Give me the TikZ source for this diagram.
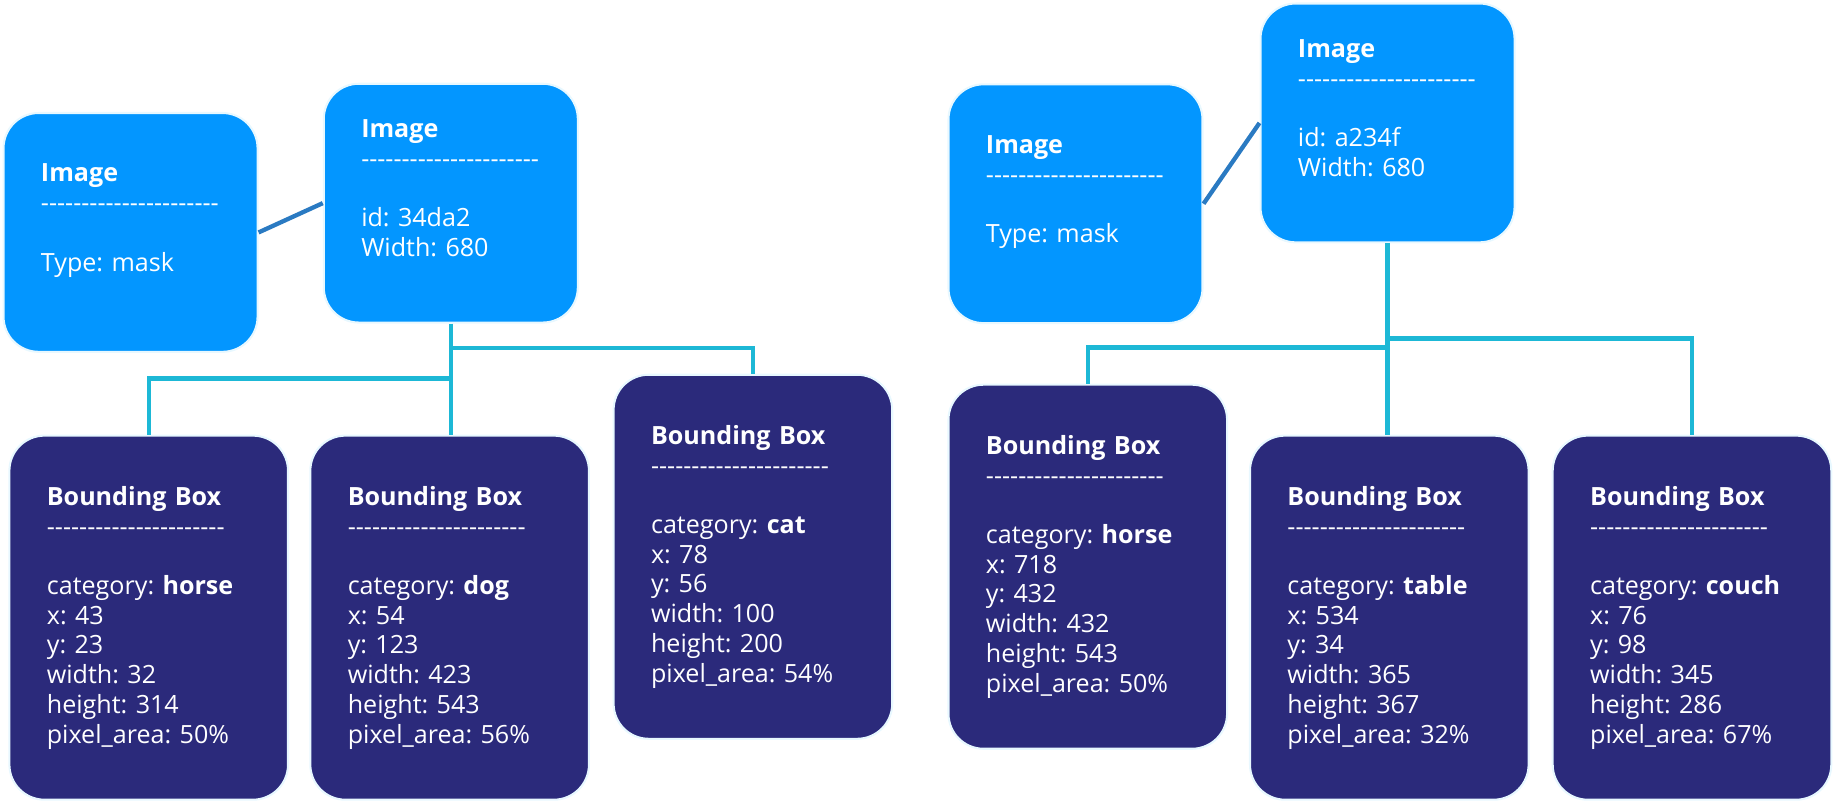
\documentclass[tikz,border=0pt]{standalone}
\usepackage{fontspec}
\setmainfont{Open Sans}
\frenchspacing
\definecolor{imgblue}{HTML}{0396FF}
\definecolor{bbnavy}{HTML}{2B2A7B}
\definecolor{treecyan}{HTML}{1DB8D6}
\definecolor{linkblue}{HTML}{2A7AC2}
\definecolor{rimwhite}{HTML}{E8F8FF}
\newcommand{\dashrow}{\mbox{-{}-{}-{}-{}-{}-{}-{}-{}-{}-{}-{}-{}-{}-{}-{}-{}-{}-{}-{}-{}-{}-}}
\begin{document}
\begin{tikzpicture}[x=0.02cm,y=-0.02cm,
  box/.style={rounded corners=0.6cm, draw=rimwhite, line width=1pt, text=white,
    align=left, inner xsep=0.64cm, font=\fontsize{12.2}{14.45}\selectfont},
  imgbox/.style={box, fill=imgblue, text width=3.06cm, minimum height=4.08cm},
  bbox/.style={box, fill=bbnavy, text width=3.48cm, minimum height=6.22cm},
  tree/.style={treecyan, line width=2.1pt},
  link/.style={linkblue, line width=2.1pt}]
  \useasboundingbox (0,0) rectangle (1568,685);

  % left group
  \node[imgbox] (imgA) at (111.5,198.5) {\textbf{Image}\\ \dashrow\\[14.4pt] Type: mask\\ \mbox{}};
  \node[imgbox] (imgB) at (385,173.5) {\textbf{Image}\\ \dashrow\\[14.4pt] id: 34da2\\ Width: 680\\ \mbox{}};
  \node[bbox] (bb1) at (127,527.5) {\textbf{Bounding Box}\\ \dashrow\\[14.4pt]
    category: \textbf{horse}\\ x: 43\\ y: 23\\ width: 32\\ height: 314\\ pixel\_area: 50\%};
  \node[bbox] (bb2) at (384,527.5) {\textbf{Bounding Box}\\ \dashrow\\[14.4pt]
    category: \textbf{dog}\\ x: 54\\ y: 123\\ width: 423\\ height: 543\\ pixel\_area: 56\%};
  \node[bbox] (bb3) at (643,475.5) {\textbf{Bounding Box}\\ \dashrow\\[14.4pt]
    category: \textbf{cat}\\ x: 78\\ y: 56\\ width: 100\\ height: 200\\ pixel\_area: 54\%};

  % right group
  \node[imgbox] (imgC) at (918.5,174) {\textbf{Image}\\ \dashrow\\[14.4pt] Type: mask\\ \mbox{}};
  \node[imgbox] (imgD) at (1185,105) {\textbf{Image}\\ \dashrow\\[14.4pt] id: a234f\\ Width: 680\\ \mbox{}};
  \node[bbox] (bb4) at (929,484) {\textbf{Bounding Box}\\ \dashrow\\[14.4pt]
    category: \textbf{horse}\\ x: 718\\ y: 432\\ width: 432\\ height: 543\\ pixel\_area: 50\%};
  \node[bbox] (bb5) at (1186.5,527.5) {\textbf{Bounding Box}\\ \dashrow\\[14.4pt]
    category: \textbf{table}\\ x: 534\\ y: 34\\ width: 365\\ height: 367\\ pixel\_area: 32\%};
  \node[bbox] (bb6) at (1445,527.5) {\textbf{Bounding Box}\\ \dashrow\\[14.4pt]
    category: \textbf{couch}\\ x: 76\\ y: 98\\ width: 345\\ height: 286\\ pixel\_area: 67\%};

  \draw[link] (imgA.east) -- (imgB.west);
  \draw[link] (imgC.east) -- (imgD.west);

  \draw[tree] (bb1.north) -- ++(0,-48) -| (imgB.south);
  \draw[tree] (imgB.south) -- (imgB.south |- bb2.north);
  \draw[tree] (bb3.north) -- ++(0,-22) -| (imgB.south);
  \draw[tree] (bb4.north) -- ++(0,-31) -| (imgD.south);
  \draw[tree] (imgD.south) -- (imgD.south |- bb5.north);
  \draw[tree] (bb6.north) -- ++(0,-82) -| (imgD.south);
\end{tikzpicture}
\end{document}
